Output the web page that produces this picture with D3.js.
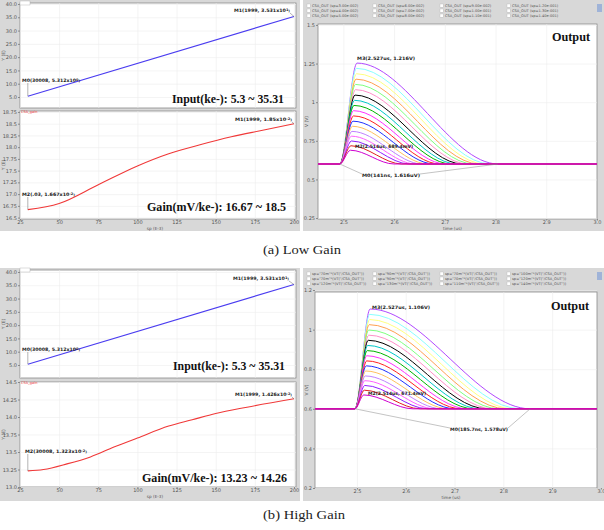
<!DOCTYPE html>
<html>
<head>
<meta charset="utf-8">
<script src="https://cdn.jsdelivr.net/npm/d3@7"></script>
<style>
  body { margin: 0; background: #fff; }
  svg { display: block; }
  .tick text { font-family: "DejaVu Sans", sans-serif; font-size: 5px; fill: #555; }
</style>
</head>
<body>
<svg id="fig" width="604" height="530"></svg>
<script>
// ---- data ----
var spTicks = [25, 50, 75, 100, 125, 150, 175, 200];
var inputTicks = [5, 10, 15, 20, 25, 30, 35, 40];
var gainLowTicks = [16.5, 16.75, 17, 17.25, 17.5, 17.75, 18, 18.25, 18.5, 18.75];
var gainHighTicks = [13, 13.25, 13.5, 13.75, 14, 14.25, 14.5];
var timeTicks = [2.5, 2.6, 2.7, 2.8, 2.9, 3.0];
var voltLowTicks = [0.25, 0.5, 0.75, 1.0, 1.25, 1.5];
var voltHighTicks = [0.2, 0.4, 0.6, 0.8, 1.0, 1.2];

var inputSp = [30, 200];
var inputKe = [5.312, 35.31];

var gainLowSp = [30, 50, 75, 100, 120, 140, 160, 180, 200];
var gainLowVal = [16.67, 16.80, 17.20, 17.60, 17.86, 18.05, 18.22, 18.36, 18.50];
var gainHighSp = [30, 40, 55, 70, 85, 100, 120, 135, 150, 170, 200];
var gainHighVal = [13.23, 13.25, 13.33, 13.43, 13.57, 13.70, 13.87, 13.96, 14.05, 14.14, 14.26];

// transient pulses, smallest first
var baseLevel = 0.6;
var peakTime = [2.514, 2.515, 2.516, 2.516, 2.517, 2.518, 2.519, 2.520, 2.520,
                2.521, 2.522, 2.523, 2.524, 2.524, 2.525, 2.526, 2.526, 2.527];
var peakLow = [0.689, 0.718, 0.749, 0.780, 0.811, 0.844, 0.877, 0.911, 0.945,
               0.979, 1.012, 1.046, 1.081, 1.115, 1.149, 1.184, 1.219, 1.253];
var endLow = [2.600, 2.615, 2.630, 2.642, 2.655, 2.667, 2.679, 2.690, 2.702,
              2.713, 2.724, 2.735, 2.746, 2.757, 2.768, 2.779, 2.790, 2.805];
var peakHigh = [0.670, 0.694, 0.718, 0.742, 0.766, 0.791, 0.817, 0.842, 0.868,
                0.894, 0.920, 0.946, 0.972, 0.998, 1.025, 1.051, 1.077, 1.104];
var endHigh = [2.615, 2.630, 2.645, 2.660, 2.674, 2.688, 2.701, 2.714, 2.727,
               2.740, 2.753, 2.766, 2.779, 2.792, 2.806, 2.820, 2.835, 2.855];
// largest first
var traceColors = ["#b048ff", "#88ffff", "#ffff80", "#ffa050", "#80ff80", "#ff90c8",
                   "#000000", "#00c8c8", "#00b400", "#ff30ff", "#ff2020", "#2030ff",
                   "#ffc060", "#c080ff", "#ff60ff", "#9020ff", "#e02020", "#d000d0"];

var legendLow = ["CSA_OUT (sp=3.00e-002)", "CSA_OUT (sp=6.00e-002)", "CSA_OUT (sp=9.00e-002)", "CSA_OUT (sp=1.20e-001)",
                 "CSA_OUT (sp=4.00e-002)", "CSA_OUT (sp=7.00e-002)", "CSA_OUT (sp=1.00e-001)", "CSA_OUT (sp=1.30e-001)",
                 "CSA_OUT (sp=5.00e-002)", "CSA_OUT (sp=8.00e-002)", "CSA_OUT (sp=1.10e-001)", "CSA_OUT (sp=1.40e-001)"];
var legendHigh = ['sp="70m"*(VT("/CSA_OUT"))', 'sp="90m"*(VT("/CSA_OUT"))', 'sp="70m"*(VT("/CSA_OUT"))', 'sp="100m"*(VT("/CSA_OUT"))',
                  'sp="70m"*(VT("/CSA_OUT"))', 'sp="90m"*(VT("/CSA_OUT"))', 'sp="70m"*(VT("/CSA_OUT"))', 'sp="120m"*(VT("/CSA_OUT"))',
                  'sp="120m"*(VT("/CSA_OUT"))', 'sp="130m"*(VT("/CSA_OUT"))', 'sp="110m"*(VT("/CSA_OUT"))', 'sp="140m"*(VT("/CSA_OUT"))'];

var svg = d3.select("#fig");
var serif = "'Liberation Serif', 'DejaVu Serif', serif";
var sans = "'DejaVu Sans', sans-serif";

function fmtFixed(d) { return d3.format(".1f")(d); }
function fmtGain(d) { return (d * 100) % 100 === 0 ? d3.format(".1f")(d) : d3.format("~g")(d); }

function frame(g, box) {
    g.append("rect")
        .attr("x", box.x0).attr("y", box.y0)
        .attr("width", box.x1 - box.x0).attr("height", box.y1 - box.y0)
        .attr("fill", "#fff").attr("stroke", "#8a8a8a").attr("stroke-width", 0.8);
}

function grid(g, x, y, box, xt, yt) {
    g.append("g").attr("transform", "translate(0," + box.y1 + ")")
        .call(d3.axisBottom(x).tickValues(xt).tickSize(-(box.y1 - box.y0)).tickFormat(""))
        .call(function (s) { s.select(".domain").remove(); s.selectAll("line").attr("stroke", "#ececec").attr("stroke-width", 0.6); });
    g.append("g").attr("transform", "translate(" + box.x0 + ",0)")
        .call(d3.axisLeft(y).tickValues(yt).tickSize(-(box.x1 - box.x0)).tickFormat(""))
        .call(function (s) { s.select(".domain").remove(); s.selectAll("line").attr("stroke", "#ececec").attr("stroke-width", 0.6); });
}

function yLabels(g, y, box, ticks, fmt) {
    g.append("g").attr("transform", "translate(" + box.x0 + ",0)")
        .call(d3.axisLeft(y).tickValues(ticks).tickSize(2).tickPadding(1).tickFormat(fmt))
        .call(function (s) { s.select(".domain").remove(); s.selectAll("line").attr("stroke", "#888"); });
}

function xLabels(g, x, box, ticks, fmt) {
    g.append("g").attr("transform", "translate(0," + box.y1 + ")")
        .call(d3.axisBottom(x).tickValues(ticks).tickSize(1.5).tickPadding(0).tickFormat(fmt))
        .call(function (s) { s.select(".domain").remove(); s.selectAll("line").attr("stroke", "#888"); });
}

function small(g, x, y, parts, len) {
    var t = g.append("text").attr("x", x).attr("y", y)
        .attr("font-family", sans).attr("font-size", 4.6).attr("font-weight", "bold").attr("fill", "#222");
    parts.forEach(function (p) {
        var s = t.append("tspan").text(p[0]);
        if (p[1]) s.attr("font-size", 3.4).attr("dy", p[1]);
    });
    if (len) t.attr("textLength", len).attr("lengthAdjust", "spacingAndGlyphs");
    return t;
}

function big(g, x, y, txt, len, size) {
    g.append("text").attr("x", x).attr("y", y)
        .attr("font-family", serif).attr("font-weight", "bold").attr("font-size", size || 13)
        .attr("fill", "#111").attr("textLength", len).attr("lengthAdjust", "spacingAndGlyphs")
        .text(txt);
}

function drawBlock(b) {
    var g = svg.append("g");

    // left panel: input + gain
    g.append("rect").attr("x", 0).attr("y", b.top).attr("width", 300).attr("height", b.bottom - b.top).attr("fill", "#d8d8d8");
    var x = d3.scaleLinear().domain([25, 201.3]).range([20, 296]);

    var yIn = d3.scaleLinear().domain(b.inDomain).range([b.inBox.y1, b.inBox.y0]);
    frame(g, b.inBox);
    grid(g, x, yIn, b.inBox, spTicks, inputTicks);
    yLabels(g, yIn, b.inBox, inputTicks, fmtFixed);
    g.append("path")
        .datum(inputSp.map(function (d, i) { return [d, inputKe[i]]; }))
        .attr("fill", "none").attr("stroke", "#4a3cf0").attr("stroke-width", 1.1)
        .attr("d", d3.line().x(function (d) { return x(d[0]); }).y(function (d) { return yIn(d[1]); }));

    var yG = d3.scaleLinear().domain(b.gDomain).range([b.gBox.y1, b.gBox.y0]);
    frame(g, b.gBox);
    grid(g, x, yG, b.gBox, spTicks, b.gTicks);
    yLabels(g, yG, b.gBox, b.gTicks, fmtGain);
    xLabels(g, x, b.gBox, spTicks, d3.format("d"));
    g.append("path")
        .datum(b.gSp.map(function (d, i) { return [d, b.gVal[i]]; }))
        .attr("fill", "none").attr("stroke", "#f03838").attr("stroke-width", 1.1)
        .attr("d", d3.line().curve(d3.curveMonotoneX).x(function (d) { return x(d[0]); }).y(function (d) { return yG(d[1]); }));

    // axis titles
    g.append("text").attr("x", 155).attr("y", b.gBox.y1 + 10.5).attr("font-family", sans).attr("font-size", 4.2)
        .attr("fill", "#555").attr("text-anchor", "middle").text("sp (E-3)");
    [b.inBox, b.gBox].forEach(function (bx) {
        g.append("text").attr("transform", "translate(5," + ((bx.y0 + bx.y1) / 2) + ") rotate(-90)")
            .attr("font-family", sans).attr("font-size", 4.5).attr("fill", "#555").attr("text-anchor", "middle").text("Y (E)");
    });
    g.append("rect").attr("x", 20).attr("y", b.inBox.y0 - 2).attr("width", 10).attr("height", 4).attr("fill", "#fff").attr("stroke", "#aaa").attr("stroke-width", 0.4);
    g.append("text").attr("x", 21).attr("y", b.gBox.y0 + 2).attr("font-family", sans).attr("font-size", 3.5).attr("fill", "#f03838").text("CSA_gain");

    // markers on input / gain
    var i0 = [x(inputSp[0]), yIn(inputKe[0])], i1 = [x(inputSp[1]), yIn(inputKe[1])];
    g.append("line").attr("x1", i0[0]).attr("y1", i0[1]).attr("x2", i0[0]).attr("y2", b.mIn0[1] + 1).attr("stroke", "#666").attr("stroke-width", 0.5);
    small(g, b.mIn0[0], b.mIn0[1], [["M0(30008, 5.312x10"], ["0", -1.5], [")", 1.5]], 58);
    small(g, b.mIn1[0], b.mIn1[1], [["M1(1999, 3.531x10"], ["1", -1.5], [")", 1.5]], 56);
    g.append("line").attr("x1", b.mIn1[0] + 56).attr("y1", b.mIn1[1] + 1).attr("x2", i1[0]).attr("y2", i1[1]).attr("stroke", "#666").attr("stroke-width", 0.5);
    var g0 = [x(b.gSp[0]), yG(b.gVal[0])], g1 = [x(b.gSp[b.gSp.length - 1]), yG(b.gVal[b.gVal.length - 1])];
    g.append("line").attr("x1", g0[0]).attr("y1", g0[1]).attr("x2", g0[0]).attr("y2", b.mG0[1] + 1).attr("stroke", "#666").attr("stroke-width", 0.5);
    small(g, b.mG0[0], b.mG0[1], b.mG0txt, b.mG0len);
    small(g, b.mG1[0], b.mG1[1], b.mG1txt, 57);
    g.append("line").attr("x1", b.mG1[0] + 57).attr("y1", b.mG1[1] + 1).attr("x2", g1[0]).attr("y2", g1[1]).attr("stroke", "#666").attr("stroke-width", 0.5);

    big(g, b.inText[0], b.inText[1], "Input(ke-): 5.3 ~ 35.31", 112);
    big(g, b.gText[0], b.gText[1], b.gLabel, b.gText[2]);

    // right panel: transient output
    g.append("rect").attr("x", 303).attr("y", b.top).attr("width", 301).attr("height", b.bottom - b.top).attr("fill", "#d8d8d8");
    g.append("rect").attr("x", 597).attr("y", b.top + 4).attr("width", 5).attr("height", 8).attr("fill", "#9fb3d8");

    // legend
    var leg = g.append("g");
    b.legend.forEach(function (txt, i) {
        var cx = [307, 373, 440, 507][i % 4], cy = b.legY + Math.floor(i / 4) * 5;
        leg.append("rect").attr("x", cx).attr("y", cy - 3).attr("width", 3.2).attr("height", 3.2)
            .attr("fill", "#fff").attr("stroke", "#aaa").attr("stroke-width", 0.3);
        leg.append("text").attr("x", cx + 5).attr("y", cy).attr("font-family", sans).attr("font-size", 3.6)
            .attr("fill", "#555").text(txt);
    });

    var box = b.oBox;
    var xt = d3.scaleLinear().domain(b.tDomain).range([box.x0, box.x1]);
    var yv = d3.scaleLinear().domain(b.vDomain).range([box.y1, box.y0]);
    frame(g, box);
    grid(g, xt, yv, box, timeTicks.filter(function (d) { return d < b.tDomain[1] - 0.005; }), b.vTicks);
    yLabels(g, yv, box, b.vTicks, d3.format("~g"));
    xLabels(g, xt, box, timeTicks, d3.format(".1f"));

    var clipId = "clip" + b.top;
    g.append("clipPath").attr("id", clipId).append("rect")
        .attr("x", box.x0).attr("y", box.y0).attr("width", box.x1 - box.x0).attr("height", box.y1 - box.y0);
    var line = d3.line().curve(d3.curveMonotoneX)
        .x(function (d) { return xt(d[0]); }).y(function (d) { return yv(d[1]); });
    var traces = b.peaks.map(function (p, i) {
        return [[b.tDomain[0], baseLevel], [b.riseT, baseLevel], [peakTime[i], p], [b.ends[i], baseLevel], [b.tDomain[1], baseLevel]];
    });
    var tg = g.append("g").attr("clip-path", "url(#" + clipId + ")");
    // largest drawn first, smallest on top near the baseline
    d3.range(traces.length).reverse().forEach(function (i) {
        tg.append("path").datum(traces[i])
            .attr("fill", "none").attr("stroke", traceColors[traces.length - 1 - i]).attr("stroke-width", 1)
            .attr("d", line);
    });

    g.append("text").attr("x", (box.x0 + box.x1) / 2 - 5).attr("y", box.y1 + 10.5).attr("font-family", sans).attr("font-size", 4.2)
        .attr("fill", "#555").attr("text-anchor", "middle").text("time (us)");
    g.append("text").attr("transform", "translate(308," + ((box.y0 + box.y1) / 2) + ") rotate(-90)")
        .attr("font-family", sans).attr("font-size", 4.5).attr("fill", "#555").attr("text-anchor", "middle").text("V (V)");

    big(g, b.outText[0], b.outText[1], "Output", 38, 13);

    // markers on the transient
    small(g, b.m3[0], b.m3[1], [[b.m3txt]], 58);
    small(g, b.m2[0], b.m2[1], [[b.m2txt]], 58);
    var lastEnd = b.ends[b.ends.length - 1];
    small(g, b.m0[0], b.m0[1], [[b.m0txt]], 58);
    g.append("line").attr("x1", xt(b.riseT)).attr("y1", yv(baseLevel)).attr("x2", b.m0[0]).attr("y2", b.m0[1] - 3)
        .attr("stroke", "#888").attr("stroke-width", 0.5);
    g.append("line").attr("x1", b.m0[0] + 58).attr("y1", b.m0[1] - 3).attr("x2", xt(lastEnd)).attr("y2", yv(baseLevel))
        .attr("stroke", "#888").attr("stroke-width", 0.5);

    svg.append("text").attr("x", 263).attr("y", b.caption[1]).attr("font-family", serif).attr("font-size", 13.5)
        .attr("fill", "#222").attr("textLength", b.caption[2]).attr("lengthAdjust", "spacingAndGlyphs").text(b.caption[0]);
}

drawBlock({
    top: 0, bottom: 231,
    inBox: { x0: 20, x1: 296, y0: 3, y1: 108 }, inDomain: [0.86, 40.38],
    gBox: { x0: 20, x1: 296, y0: 111, y1: 219 }, gDomain: [16.47, 18.77], gTicks: gainLowTicks,
    gSp: gainLowSp, gVal: gainLowVal,
    mIn0: [22, 82], mIn1: [234, 12],
    mG0: [22, 196], mG0txt: [["M2(.03, 1.667x10"], ["-2", -1.5], [")", 1.5]], mG0len: 53,
    mG1: [235, 121], mG1txt: [["M1(1999, 1.85x10"], ["-2", -1.5], [")", 1.5]],
    inText: [172, 103], gText: [147, 211, 139], gLabel: "Gain(mV/ke-): 16.67 ~ 18.5",
    legend: legendLow, legY: 7,
    oBox: { x0: 318, x1: 597, y0: 24, y1: 219 }, tDomain: [2.45, 3.0], vDomain: [0.244, 1.506], vTicks: voltLowTicks,
    peaks: peakLow, ends: endLow, riseT: 2.493,
    outText: [552, 41],
    m3: [357, 60], m3txt: "M3(2.527us, 1.216V)",
    m2: [355, 148], m2txt: "M2(2.514us, 689.4mV)",
    m0: [362, 177], m0txt: "M0(141ns, 1.616uV)",
    caption: ["(a) Low Gain", 254, 78]
});

drawBlock({
    top: 268, bottom: 501,
    inBox: { x0: 20, x1: 296, y0: 270, y1: 378 }, inDomain: [0.1, 40.75],
    gBox: { x0: 20, x1: 296, y0: 382, y1: 487 }, gDomain: [13.0, 14.5], gTicks: gainHighTicks,
    gSp: gainHighSp, gVal: gainHighVal,
    mIn0: [22, 351], mIn1: [233, 280],
    mG0: [25, 453], mG0txt: [["M2(30008, 1.323x10"], ["-2", -1.5], [")", 1.5]], mG0len: 62,
    mG1: [235, 396], mG1txt: [["M1(1999, 1.426x10"], ["-2", -1.5], [")", 1.5]],
    inText: [173, 370], gText: [142, 482, 145], gLabel: "Gain(mV/ke-): 13.23 ~ 14.26",
    legend: legendHigh, legY: 275,
    oBox: { x0: 315, x1: 597, y0: 292, y1: 488 }, tDomain: [2.414, 2.992], vDomain: [0.2, 1.19], vTicks: voltHighTicks,
    peaks: peakHigh, ends: endHigh, riseT: 2.496,
    outText: [551, 310],
    m3: [372, 309], m3txt: "M3(2.527us, 1.106V)",
    m2: [368, 395], m2txt: "M2(2.514us, 671.4mV)",
    m0: [450, 431], m0txt: "M0(185.7ns, 1.578uV)",
    caption: ["(b) High Gain", 519, 82]
});
</script>
</body>
</html>
